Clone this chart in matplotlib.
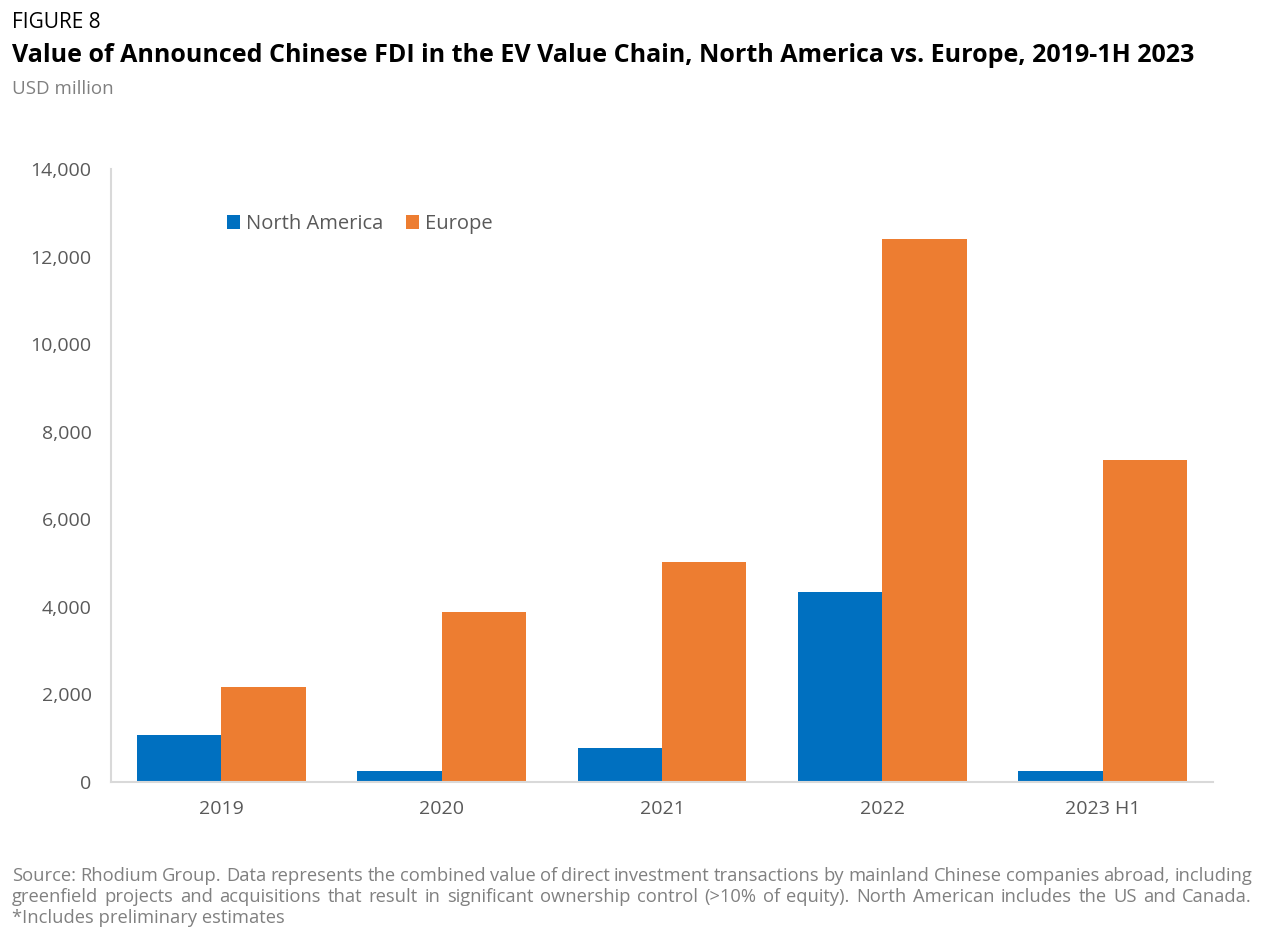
import matplotlib
matplotlib.use("Agg")
import matplotlib.pyplot as plt
import numpy as np

categories = ["2019", "2020", "2021", "2022", "2023 H1"]
north_america = [1070, 250, 775, 4340, 250]
europe = [2170, 3880, 5020, 12400, 7350]
yticks = [0, 2000, 4000, 6000, 8000, 10000, 12000, 14000]

FONT = "Open Sans"
plt.rcParams['font.family'] = [FONT, 'DejaVu Sans']

W, H = 1268, 938
fig = plt.figure(figsize=(W/100, H/100), dpi=100)
ax = fig.add_axes([111/W, 1-782/H, (1213-111)/W, (782-169)/H])

x = np.arange(len(categories))
bw = 0.383
ax.bar(x - bw/2, north_america, bw, color="#0070C0", label="North America")
ax.bar(x + bw/2, europe, bw, color="#ED7D31", label="Europe")
ax.set_xlim(-0.5, len(categories)-0.5)
ax.set_ylim(0, 14000)
ax.set_yticks(yticks)
ax.set_yticklabels([f"{v:,}" for v in yticks])
ax.set_xticks(x)
ax.set_xticklabels(categories)
for s in ["top", "right"]:
    ax.spines[s].set_visible(False)
for s in ["left", "bottom"]:
    ax.spines[s].set_color("#d9d9d9")
    ax.spines[s].set_linewidth(1.5)
ax.tick_params(axis="both", length=0, labelsize=14, labelcolor="#595959")
ax.tick_params(axis="y", pad=14)
ax.tick_params(axis="x", pad=13)

leg = ax.legend(loc="center left", bbox_to_anchor=(209/W, 1-224/H), bbox_transform=fig.transFigure,
                ncol=2, frameon=False, fontsize=14.5, handlelength=0.65, handleheight=0.65,
                handletextpad=0.3, columnspacing=1.1, labelcolor="#595959")

fig.canvas.draw()
r = fig.canvas.get_renderer()

def fit(t, target):
    w = t.get_window_extent(r).width
    t.set_fontsize(t.get_fontsize() * target / w)

fig.text(12/W, 1-23/H, "FIGURE 8", fontsize=15, color="#000000", va="center", ha="left")
tt = fig.text(12/W, 1-56/H, "Value of Announced Chinese FDI in the EV Value Chain, North America vs. Europe, 2019-1H 2023",
         fontsize=16.5, fontweight="bold", color="#000000", va="center", ha="left")
fit(tt, 1181)
fig.text(12/W, 1-89/H, "USD million", fontsize=13.5, color="#808080", va="center", ha="left")

lines = [
    "Source: Rhodium Group. Data represents the combined value of direct investment transactions by mainland Chinese companies abroad, including",
    "greenfield projects and acquisitions that result in significant ownership control (>10% of equity). North American includes the US and Canada.",
    "*Includes preliminary estimates",
]
ys = [876, 897, 918]
x0, x1 = 12, 1252
probe = fig.text(0, 0, lines[0], fontsize=12)
fs = 12 * (x1 - x0) / probe.get_window_extent(r).width
probe.remove()
for i, (line, yy) in enumerate(zip(lines, ys)):
    if i < 2:
        words = line.split(" ")
        ts = [fig.text(0, 1-yy/H, w, fontsize=fs, color="#808080", va="center", ha="left") for w in words]
        widths = [t.get_window_extent(r).width for t in ts]
        gap = (x1 - x0 - sum(widths)) / (len(words)-1)
        cx = x0
        for t, wd in zip(ts, widths):
            t.set_x(cx/W)
            cx += wd + gap
    else:
        fig.text(x0/W, 1-yy/H, line, fontsize=fs, color="#808080", va="center", ha="left")

fig.savefig("out.png", dpi=100)
